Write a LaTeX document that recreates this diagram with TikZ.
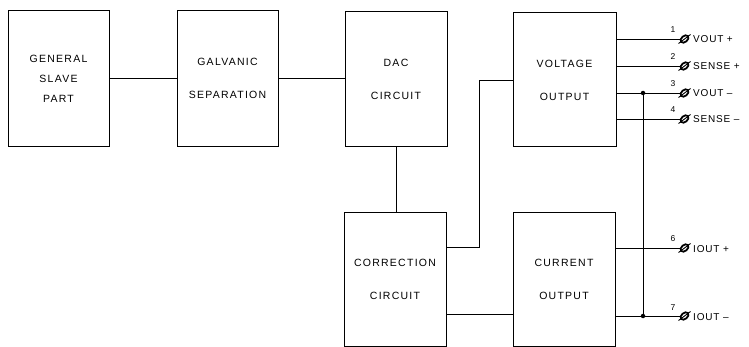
\documentclass[tikz,border=0pt]{standalone}
\usepackage{fontspec}
\newfontfamily\plotfont{Liberation Sans}[LetterSpace=12]
\newfontfamily\termfont{Liberation Sans}[LetterSpace=8]
\usetikzlibrary{shapes.geometric}
\begin{document}
\begin{tikzpicture}[x=1pt,y=-1pt,
  box/.style={draw,line width=1pt,minimum width=101pt,minimum height=136pt,inner sep=0pt,align=center,
    font=\plotfont\fontsize{10.5}{20}\selectfont},
  wire/.style={line width=0.8pt},
  termsym/.style={draw,ellipse,line width=1.8pt,minimum width=9pt,minimum height=6pt,inner sep=0pt,rotate=40},
  termlbl/.style={anchor=base west,inner sep=0pt,font=\termfont\fontsize{10}{11}\selectfont},
  pinno/.style={anchor=base,inner sep=0pt,font=\termfont\fontsize{8.5}{9}\selectfont},
  dot/.style={fill,circle,inner sep=0pt,minimum size=4.5pt}]
\useasboundingbox (0,0) rectangle (749,347);

% blocks
\node[box] (gsp) at (58.5,78.5) {GENERAL\\SLAVE\\PART};
\node[box] (gs)  at (227.5,78.5) {GALVANIC\\[13pt]SEPARATION};
\node[box,minimum width=102pt,minimum height=135pt] (dac) at (396,79.5) {DAC\\[13pt]CIRCUIT};
\node[box,minimum width=103pt,minimum height=134pt] (vo) at (564.5,80) {VOLTAGE\\[13pt]OUTPUT};
\node[box,minimum width=102pt,minimum height=133pt] (cc) at (395,279.5) {CORRECTION\\[13pt]CIRCUIT};
\node[box,minimum width=102pt,minimum height=133pt] (co) at (564,279.5) {CURRENT\\[13pt]OUTPUT};

% internal connections
\draw[wire] (gsp.east) -- (gs.west);
\draw[wire] (gs.east) -- (gs.east -| dac.west);
\draw[wire] (dac.south) -- (dac.south |- cc.north);
\coordinate (bend) at (479,247);
\draw[wire] (cc.east |- bend) -- (bend) |- (vo.west);
\coordinate (ccout) at (446,314);
\draw[wire] (cc.east |- ccout) -- (co.west |- ccout);

% terminal ends
\coordinate (t1) at (680,39);
\coordinate (t2) at (680,66);
\coordinate (t3) at (680,93);
\coordinate (t4) at (680,119);
\coordinate (t6) at (680,248);
\coordinate (t7) at (680,316);

\draw[wire] (vo.east |- t1) -- (t1);
\draw[wire] (vo.east |- t2) -- (t2);
\draw[wire] (vo.east |- t3) -- (t3);
\draw[wire] (vo.east |- t4) -- (t4);
\draw[wire] (co.east |- t6) -- (t6);
\draw[wire] (co.east |- t7) -- (t7);

% common bus
\coordinate (j3) at (643,93);
\coordinate (j7) at (643,316);
\draw[wire] (j3) -- (j7);
\node[dot] at (j3) {};
\node[dot] at (j7) {};

% terminal symbols
\foreach \t/\y in {1/39,2/66,3/93,4/119,6/248,7/316}{
  \node[termsym] (s\t) at (684.5,\y) {};
  \draw[line width=0.9pt] ([shift={(-6,4.5)}]s\t.center) -- ([shift={(6,-4.5)}]s\t.center);
}

% pin numbers
\node[pinno] at (673,33) {1};
\node[pinno] at (673,60) {2};
\node[pinno] at (673,87) {3};
\node[pinno] at (673,113) {4};
\node[pinno] at (673,242) {6};
\node[pinno] at (673,310) {7};

% terminal labels
\node[termlbl] at (693,43) {VOUT +};
\node[termlbl] at (693,70) {SENSE +};
\node[termlbl] at (693,97) {VOUT \textendash};
\node[termlbl] at (693,123) {SENSE \textendash};
\node[termlbl] at (693,252) {IOUT +};
\node[termlbl] at (693,320) {IOUT \textendash};
\end{tikzpicture}
\end{document}
